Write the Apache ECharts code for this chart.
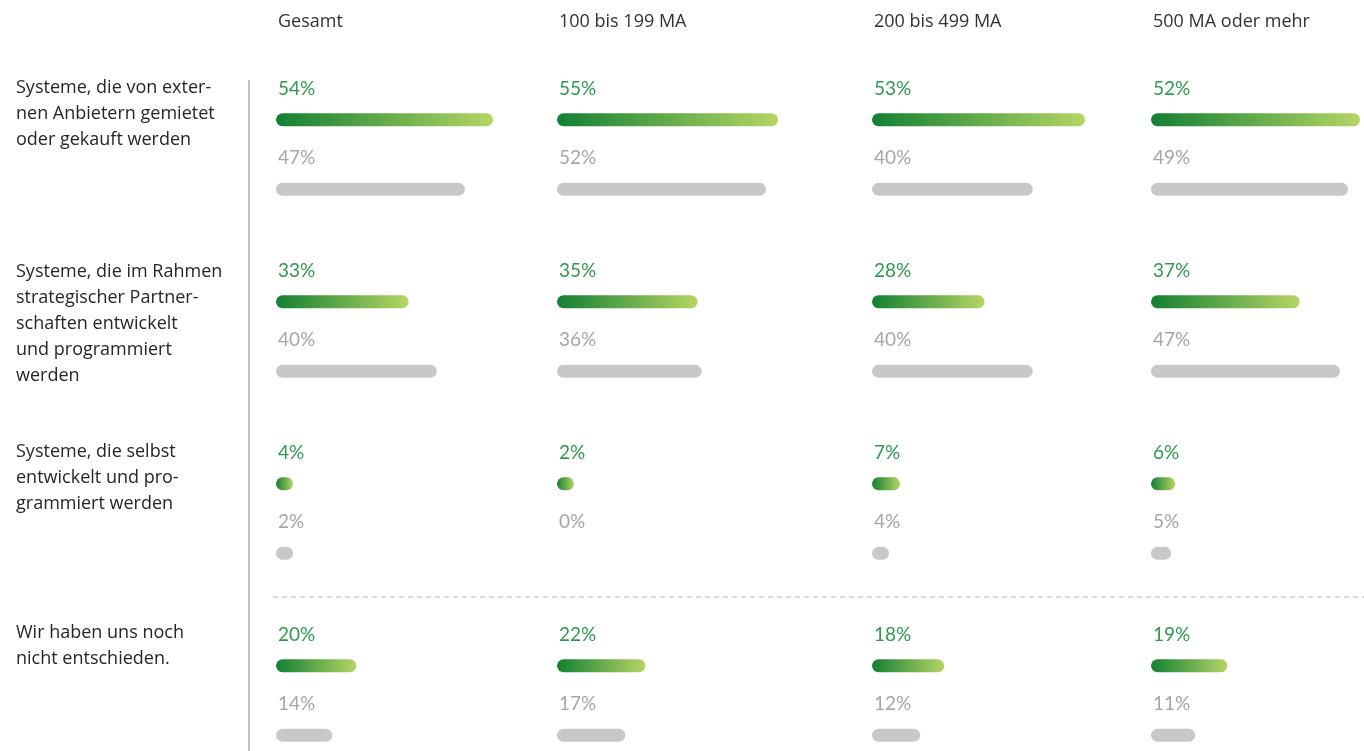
<!DOCTYPE html>
<html>
<head>
<meta charset="utf-8">
<script src="https://cdn.jsdelivr.net/npm/echarts@6/dist/echarts.min.js"></script>
<style>html,body{margin:0;padding:0;background:#fff;}#c{width:1364px;height:751px;}</style>
</head>
<body>
<div id="c"></div>
<script>
// ---- data ----
var rowLabels = [
  'Systeme, die von exter-\nnen Anbietern gemietet\noder gekauft werden',
  'Systeme, die im Rahmen\nstrategischer Partner-\nschaften entwickelt\nund programmiert\nwerden',
  'Systeme, die selbst\nentwickelt und pro-\ngrammiert werden',
  'Wir haben uns noch\nnicht entschieden.'
];
var columns = ['Gesamt', '100 bis 199 MA', '200 bis 499 MA', '500 MA oder mehr'];
var currentGesamt = [54, 33, 4, 20];
var current100 = [55, 35, 2, 22];
var current200 = [53, 28, 7, 18];
var current500 = [52, 37, 6, 19];
var previousGesamt = [47, 40, 2, 14];
var previous100 = [52, 36, 0, 17];
var previous200 = [40, 40, 4, 12];
var previous500 = [49, 47, 5, 11];

var currentByCol = [currentGesamt, current100, current200, current500];
var previousByCol = [previousGesamt, previous100, previous200, previous500];

// ---- layout ----
var colLeft = [276, 557, 872, 1151];
var colWidth = 201;          // 50% span
var gridTop = 154.5, gridHeight = 546;
var rowTitleTop = [75, 259, 439, 620];

var chart = echarts.init(document.getElementById('c'));
var grids = [], xAxes = [], yAxes = [], series = [], titles = [];
var cats = rowLabels.map(function (_, i) { return 'r' + i; });

var greenGrad = new echarts.graphic.LinearGradient(0, 0, 1, 0, [
  { offset: 0, color: '#138033' },
  { offset: 1, color: '#b5d564' }
]);

function items(arr) {
  return arr.map(function (v) {
    return v === 0 ? { value: v, itemStyle: { color: 'transparent' } } : v;
  });
}

for (var c = 0; c < columns.length; c++) {
  grids.push({ left: colLeft[c], width: colWidth, top: gridTop, height: gridHeight, containLabel: false });
  xAxes.push({ gridIndex: c, type: 'value', min: 0, max: 50, show: false });
  yAxes.push({ gridIndex: c, type: 'category', data: cats, inverse: true, boundaryGap: false, show: false });
  var lblBase = { show: true, position: [2, -24.5], align: 'left', verticalAlign: 'middle',
    fontFamily: 'Lato', fontSize: 19, formatter: '{c}%' };
  series.push({
    type: 'bar', xAxisIndex: c, yAxisIndex: c, data: items(currentByCol[c]),
    barWidth: 13, barGap: '435%', barMinHeight: 17, silent: true, clip: false,
    itemStyle: { color: greenGrad, borderRadius: 7 },
    label: Object.assign({}, lblBase, { color: '#2e9a4c' })
  });
  series.push({
    type: 'bar', xAxisIndex: c, yAxisIndex: c, data: items(previousByCol[c]),
    barWidth: 13, barGap: '435%', barMinHeight: 17, silent: true, clip: false,
    itemStyle: { color: '#c8c8c8', borderRadius: 7 },
    label: Object.assign({}, lblBase, { color: '#a6a6a6' })
  });
  titles.push({ text: columns[c], left: colLeft[c] + 2, top: 10, padding: 0,
    textStyle: { fontFamily: 'Open Sans', fontSize: 18, fontWeight: 'normal', color: '#333333', lineHeight: 24 } });
}
for (var r = 0; r < rowLabels.length; r++) {
  titles.push({ text: rowLabels[r], left: 16, top: rowTitleTop[r], padding: 0,
    textStyle: { fontFamily: 'Open Sans', fontSize: 18, fontWeight: 'normal', color: '#262626', lineHeight: 26 } });
}

chart.setOption({
  animation: false,
  title: titles,
  grid: grids,
  xAxis: xAxes,
  yAxis: yAxes,
  series: series,
  graphic: [
    { type: 'line', shape: { x1: 249, y1: 80, x2: 249, y2: 751 }, style: { stroke: '#c0c0c0', lineWidth: 2 }, silent: true },
    { type: 'line', shape: { x1: 273, y1: 597, x2: 1364, y2: 597 }, style: { stroke: '#b4b4b4', lineWidth: 1, lineDash: [5, 4] }, silent: true }
  ]
});
</script>
</body>
</html>
